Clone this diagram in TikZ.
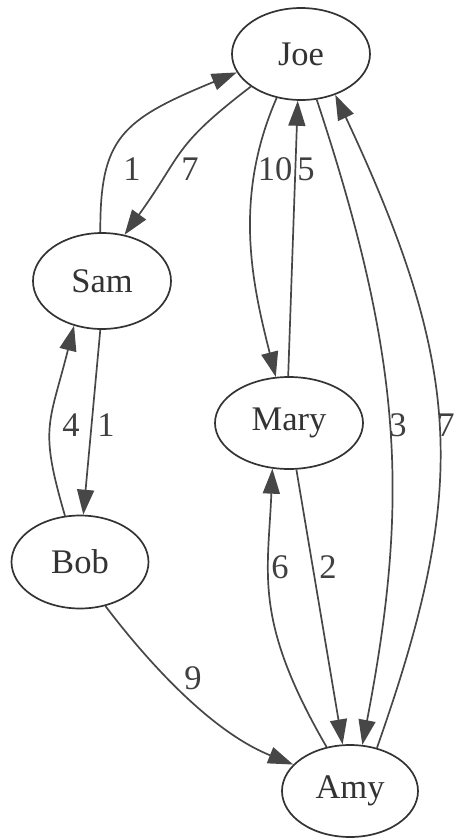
\documentclass[tikz,border=0pt]{standalone}
\usepackage{fontspec}
\setmainfont{Liberation Serif}
\usetikzlibrary{shapes.geometric,arrows.meta}
\begin{document}
\begin{tikzpicture}[x=1pt,y=-1pt,
  person/.style={ellipse,draw=black!80,line width=1.7pt,inner sep=0pt,
    font=\fontsize{34.5}{40}\selectfont,text=black!80},
  edge/.style={draw=black!72,line width=1.7pt,
    -{Triangle[length=25pt,width=17pt,fill=black!72]}},
  wlabel/.style={font=\fontsize{34.5}{40}\selectfont,text=black!75,inner sep=0pt}]
\useasboundingbox (0,0) rectangle (455,839);
\node[person,minimum width=138pt,minimum height=92pt] (Joe)  at (301,54)  {Joe};
\node[person,minimum width=138pt,minimum height=96pt] (Sam)  at (102,281) {Sam};
\node[person,minimum width=148pt,minimum height=92pt] (Mary) at (289,423) {Mary};
\node[person,minimum width=137pt,minimum height=93pt] (Bob)  at (80,562)  {Bob};
\node[person,minimum width=136pt,minimum height=92pt] (Amy)  at (350,791) {Amy};
% Sam -> Joe (1)
\draw[edge] (Sam.92) .. controls (100,138) and (121,120) .. (Joe.196.5);
% Joe -> Sam (7)
\draw[edge] (Joe.213) .. controls (172,147) and (184,152) .. (Sam.64);
% Joe -> Mary (10)
\draw[edge] (Joe.241) .. controls (233,198) and (252,283) .. (Mary.106);
% Mary -> Joe (5)
\draw[edge] (Mary.91) -- (Joe.266);
% Joe -> Amy (3)
\draw[edge] (Joe.289) .. controls (404,363) and (409,502) .. (Amy.75);
% Amy -> Joe (7)
\draw[edge] (Amy.58) .. controls (467,492) and (466,374) .. (Joe.-50);
% Sam -> Bob (1)
\draw[edge] (Sam.-92) -- (Bob.86);
% Bob -> Sam (4)
\draw[edge] (Bob.108) .. controls (39,427) and (49,425) .. (Sam.238);
% Mary -> Amy (2)
\draw[edge] (Mary.-81) -- (Amy.99);
% Amy -> Mary (6)
\draw[edge] (Amy.118) .. controls (253,620) and (268,575) .. (Mary.250);
% Bob -> Amy (9)
\draw[edge] (Bob.-60) .. controls (141,653) and (207,730) .. (Amy.155);
% labels
\node[wlabel] (l1)  at (132,169) {1};
\node[wlabel] (l7)  at (190,169) {7};
\node[wlabel] (l10) at (275,169) {10};
\node[wlabel] (l5)  at (306,169) {5};
\node[wlabel] (l4)  at (71,425)  {4};
\node[wlabel] (l1b) at (106,425) {1};
\node[wlabel] (l3)  at (398,425) {3};
\node[wlabel] (l7b) at (446,425) {7};
\node[wlabel] (l6)  at (280,567) {6};
\node[wlabel] (l2)  at (328,567) {2};
\node[wlabel] (l9)  at (193,678) {9};
\end{tikzpicture}
\end{document}
